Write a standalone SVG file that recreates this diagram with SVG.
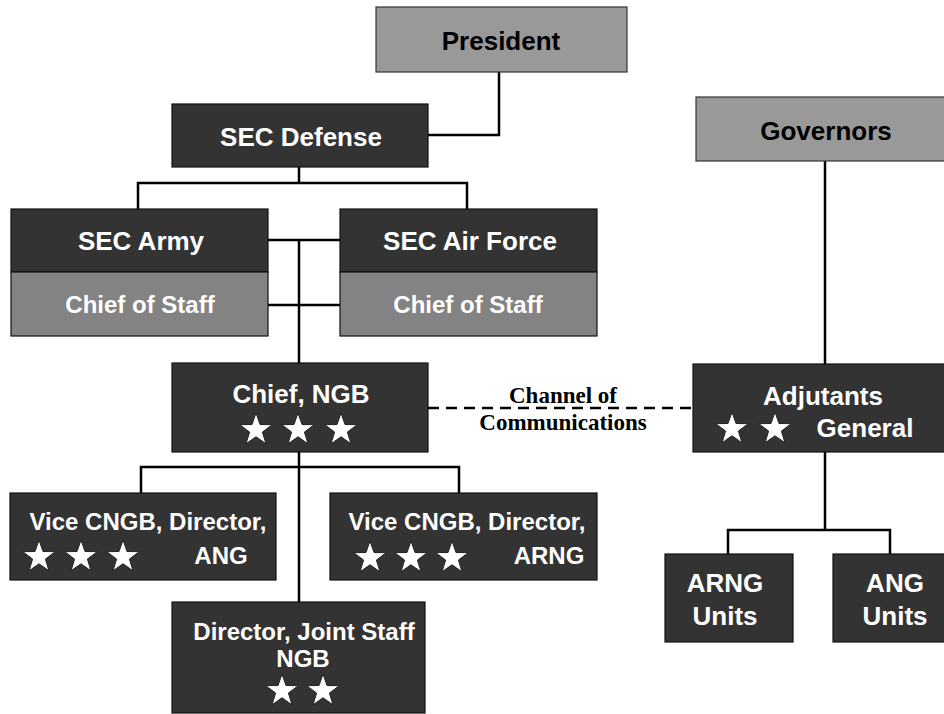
<svg xmlns="http://www.w3.org/2000/svg" xmlns:xlink="http://www.w3.org/1999/xlink" width="944" height="714" viewBox="0 0 944 714">
<style>
.dark{fill:#333333;stroke:#111;stroke-width:1.2}
.gray{fill:#999999;stroke:#333;stroke-width:1.2}
.mid{fill:#838383;stroke:#111;stroke-width:1.2}
.tw{fill:#fff;font-family:"Liberation Sans",Arial,sans-serif;font-weight:bold;text-anchor:middle}
.tb{fill:#000;font-family:"Liberation Sans",Arial,sans-serif;font-weight:bold;text-anchor:middle}
.ts{fill:#000;font-family:"Liberation Serif","Times New Roman",serif;font-weight:bold;text-anchor:middle;font-size:23px}
.ln{stroke:#000;stroke-width:2.5;fill:none}
.dash{stroke:#000;stroke-width:2.5;fill:none;stroke-dasharray:11 7}
.star{fill:#fff;stroke:#222;stroke-width:1}
</style>
<defs>
<polygon id="star" class="star" points="0,-17 4,-5.5 16.2,-5.3 6.4,2.1 10,13.8 0,6.8 -10,13.8 -6.4,2.1 -16.2,-5.3 -4,-5.5"/>
</defs>
<g id="connectors">
<polyline class="ln" points="499,72 499,135 428,135"/>
<polyline class="ln" points="299,167 299,183"/>
<polyline class="ln" points="138,209 138,183 467,183 467,209"/>
<line class="ln" x1="268" y1="240" x2="340" y2="240"/>
<line class="ln" x1="268" y1="305" x2="340" y2="305"/>
<line class="ln" x1="299" y1="240" x2="299" y2="364"/>
<line class="ln" x1="299" y1="452" x2="299" y2="602"/>
<polyline class="ln" points="141,493 141,467 459,467 459,493"/>
<line class="dash" x1="428" y1="408" x2="693" y2="408"/>
<line class="ln" x1="825" y1="161" x2="825" y2="364"/>
<line class="ln" x1="825" y1="452" x2="825" y2="530"/>
<polyline class="ln" points="728,554 728,530 890,530 890,554"/>
</g>
<g id="president">
<rect class="gray" x="376" y="7" width="251" height="65"/>
<text class="tb" x="501" y="50" font-size="26">President</text>
</g>
<g id="sec-defense">
<rect class="dark" x="172" y="104" width="256" height="63"/>
<text class="tw" x="301" y="146" font-size="26">SEC Defense</text>
</g>
<g id="governors">
<rect class="gray" x="696" y="97" width="260" height="64"/>
<text class="tb" x="826" y="140" font-size="26">Governors</text>
</g>
<g id="sec-army">
<rect class="dark" x="11" y="209" width="257" height="63"/>
<text class="tw" x="141" y="250" font-size="26">SEC Army</text>
<rect class="mid" x="11" y="272" width="257" height="64"/>
<text class="tw" x="140" y="313" font-size="24">Chief of Staff</text>
</g>
<g id="sec-air-force">
<rect class="dark" x="340" y="209" width="257" height="63"/>
<text class="tw" x="470" y="250" font-size="26">SEC Air Force</text>
<rect class="mid" x="340" y="272" width="257" height="64"/>
<text class="tw" x="468" y="313" font-size="24">Chief of Staff</text>
</g>
<g id="chief-ngb">
<rect class="dark" x="172" y="363" width="256" height="89"/>
<text class="tw" x="301" y="403" font-size="26">Chief, NGB</text>
<use xlink:href="#star" x="256" y="430"/>
<use xlink:href="#star" x="298" y="430"/>
<use xlink:href="#star" x="341" y="430"/>
</g>
<g id="channel-label">
<text class="ts" x="563" y="403">Channel of</text>
<text class="ts" x="563" y="430">Communications</text>
</g>
<g id="adjutants-general">
<rect class="dark" x="693" y="364" width="262" height="88"/>
<text class="tw" x="823" y="405" font-size="26">Adjutants</text>
<text class="tw" x="865" y="437" font-size="26">General</text>
<use xlink:href="#star" x="732" y="429"/>
<use xlink:href="#star" x="775" y="429"/>
</g>
<g id="vice-ang">
<rect class="dark" x="10" y="493" width="266" height="87"/>
<text class="tw" x="148" y="530" font-size="24">Vice CNGB, Director,</text>
<text class="tw" x="221" y="564" font-size="24">ANG</text>
<use xlink:href="#star" x="39" y="557"/>
<use xlink:href="#star" x="81" y="557"/>
<use xlink:href="#star" x="123" y="557"/>
</g>
<g id="vice-arng">
<rect class="dark" x="330" y="493" width="267" height="87"/>
<text class="tw" x="467" y="530" font-size="24">Vice CNGB, Director,</text>
<text class="tw" x="549" y="564" font-size="24">ARNG</text>
<use xlink:href="#star" x="370" y="558"/>
<use xlink:href="#star" x="411" y="558"/>
<use xlink:href="#star" x="452" y="558"/>
</g>
<g id="director-joint-staff">
<rect class="dark" x="172" y="602" width="253" height="111"/>
<text class="tw" x="304" y="640" font-size="24">Director, Joint Staff</text>
<text class="tw" x="303" y="667" font-size="24">NGB</text>
<use xlink:href="#star" x="282" y="691"/>
<use xlink:href="#star" x="323" y="691"/>
</g>
<g id="arng-units">
<rect class="dark" x="665" y="554" width="128" height="88"/>
<text class="tw" x="725" y="592" font-size="26">ARNG</text>
<text class="tw" x="725" y="625" font-size="26">Units</text>
</g>
<g id="ang-units">
<rect class="dark" x="833" y="554" width="124" height="88"/>
<text class="tw" x="895" y="592" font-size="26">ANG</text>
<text class="tw" x="895" y="625" font-size="26">Units</text>
</g>
</svg>
